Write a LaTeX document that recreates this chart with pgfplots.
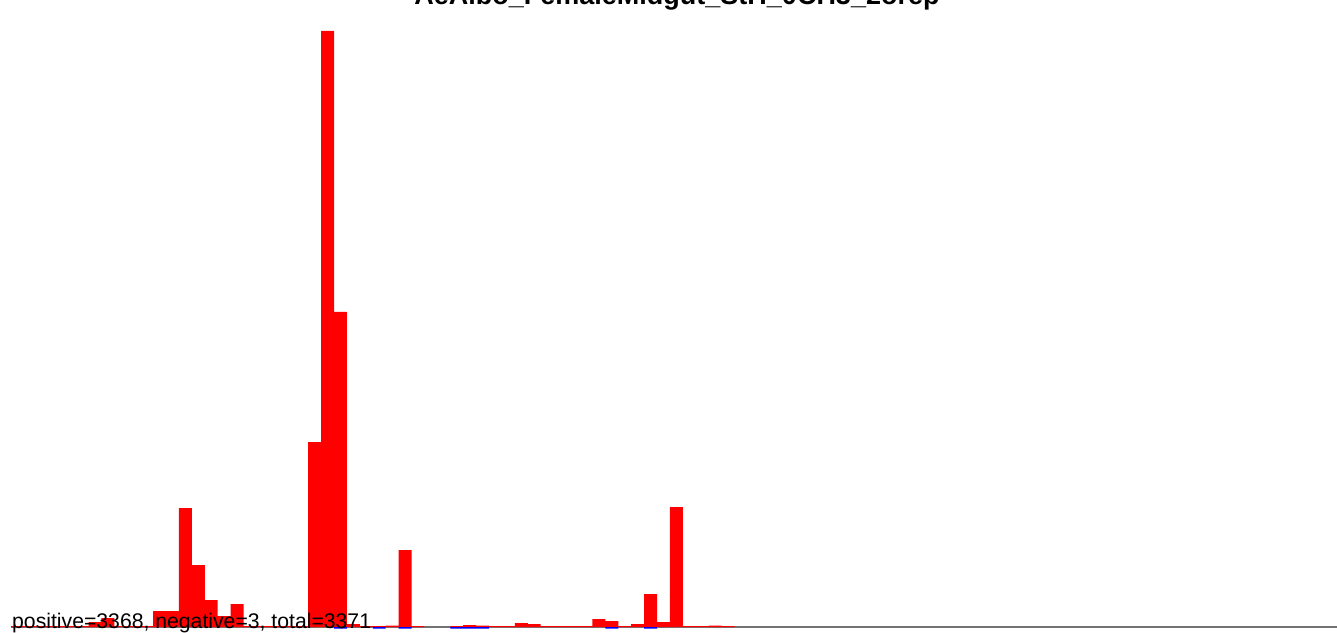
\documentclass[border=0pt]{standalone}
\usepackage{pgfplots}
\pgfplotsset{compat=1.18}
\usepackage{pgfplotstable}
\usepackage{fontspec}
\setmainfont{Liberation Sans}

\pgfplotstableread{
x y
0.5 1
1.5 1
2.5 1
3.5 1
4.5 1
5.5 1
6.5 5
7.5 9
8.5 1
9.5 1
10.5 1
11.5 16
12.5 16
13.5 119
14.5 62
15.5 27
16.5 11
17.5 23
18.5 1
19.5 1
20.5 1
21.5 1
22.5 1
23.5 185
24.5 596
25.5 315
26.5 3
27.5 1
28.5 1
29.5 1.5
30.5 77
31.5 1
34.5 1
35.5 2
36.5 1.5
37.5 1
38.5 1
39.5 4
40.5 3
41.5 1
42.5 1
43.5 1
44.5 1
45.5 8
46.5 6
47.5 1
48.5 3
49.5 33
50.5 5
51.5 120
52.5 1
53.5 1
54.5 1.5
55.5 1
}\posdata

\pgfplotstableread{
x y
25.5 -1.5
28.5 -1.5
30.5 -1.5
34.5 -1.5
35.5 -1.5
36.5 -1.5
46.5 -1.5
49.5 -1.5
}\negdata

\begin{document}
\begin{tikzpicture}
\useasboundingbox (0,0) rectangle (1337pt,632pt);
\begin{axis}[
  at={(11pt,0pt)}, anchor=south west,
  scale only axis, width=1326pt, height=632pt,
  xmin=0, xmax=102.63, ymin=-5, ymax=627,
  hide axis, clip=false,
]
\draw[black!55, line width=1.3pt] (axis cs:0,0) -- (axis cs:102.63,0);
\addplot[ybar, bar width=1, bar shift=0pt, fill=red, draw=none] table[x=x,y=y] {\posdata};
\addplot[ybar, bar width=1, bar shift=0pt, fill=blue, draw=none] table[x=x,y=y] {\negdata};
\end{axis}
\node[anchor=base west, inner sep=0pt, font=\fontsize{21.2}{25}\selectfont] at (12pt,4pt) {positive=3368, negative=3, total=3371};
\node[overlay, anchor=base, inner sep=0pt, font=\bfseries\fontsize{27}{31}\selectfont] at (677pt,627pt) {AeAlbo\_FemaleMidgut\_StH\_0CH3\_2orep};
\end{tikzpicture}
\end{document}
